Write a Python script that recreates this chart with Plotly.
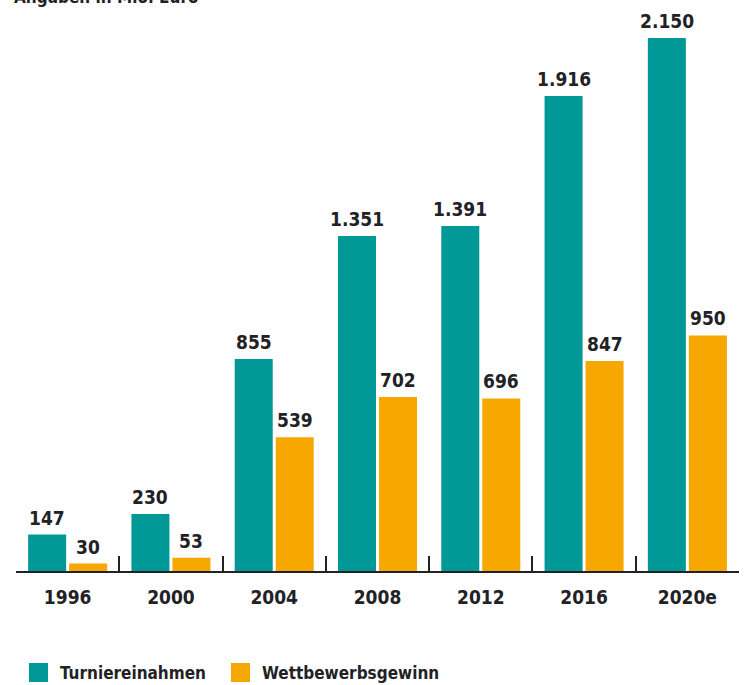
import plotly.graph_objects as go

years = ["1996", "2000", "2004", "2008", "2012", "2016", "2020e"]
turnier = [147, 230, 855, 1351, 1391, 1916, 2150]
wettbewerb = [30, 53, 539, 702, 696, 847, 950]
series_names = ["Turniereinahmen", "Wettbewerbsgewinn"]
title_text = "Angaben in Mio. Euro"

TEAL = "#009997"
ORANGE = "#F6A800"
INK = "#222226"
FONT = "DejaVu Sans Condensed"

W, H = 748, 685
ML, MR, MT, MB = 16, 9, 0, 114
plot_w = W - ML - MR
plot_h = H - MT - MB
YMAX = 2303


def fmt(v):
    return f"{v:,}".replace(",", ".")


fig = go.Figure()
fig.add_trace(go.Bar(x=years, y=turnier, name=series_names[0], marker_color=TEAL,
                     marker_line_width=0, showlegend=False))
fig.add_trace(go.Bar(x=years, y=wettbewerb, name=series_names[1], marker_color=ORANGE,
                     marker_line_width=0, showlegend=False))

annotations = []
for vals, shift in ((turnier, -20.5), (wettbewerb, 20.5)):
    for i, v in enumerate(vals):
        annotations.append(dict(x=i, y=v, xref="x", yref="y", text=fmt(v),
                                showarrow=False, xshift=shift, yanchor="bottom",
                                yshift=4, font=dict(family=FONT, size=19, color=INK, weight="bold")))

# title (partly cut at the top, as in reference)
annotations.append(dict(x=(12 - ML) / plot_w, y=1, xref="paper", yref="paper",
                        xanchor="left", yanchor="middle", yshift=3, text=title_text,
                        showarrow=False, font=dict(family=FONT, size=17, color=INK, weight="bold")))


def px_x(p):
    return (p - ML) / plot_w


def px_y(p):
    return (H - MB - p) / plot_h


shapes = []
legend_items = [(29, TEAL, series_names[0]), (231, ORANGE, series_names[1])]
for x0, col, name in legend_items:
    shapes.append(dict(type="rect", xref="paper", yref="paper",
                       x0=px_x(x0), x1=px_x(x0 + 19), y0=px_y(682), y1=px_y(663),
                       fillcolor=col, line_width=0))
    annotations.append(dict(x=px_x(x0 + 29), y=px_y(672.5), xref="paper", yref="paper",
                            xanchor="left", yanchor="middle", text=name,
                            showarrow=False, font=dict(family=FONT, size=17, color=INK, weight="bold")))

fig.update_layout(
    width=W, height=H,
    margin=dict(l=ML, r=MR, t=MT, b=MB),
    paper_bgcolor="white", plot_bgcolor="white",
    barmode="group", bargap=0.206, bargroupgap=0.073,
    xaxis=dict(type="category", range=[-0.5, 6.5], showline=True, linecolor=INK, linewidth=2,
               ticks="inside", tickson="boundaries", ticklen=15, tickwidth=2, tickcolor=INK,
               showgrid=False, zeroline=False, ticklabelstandoff=8,
               tickfont=dict(family=FONT, size=19, color=INK, weight="bold")),
    yaxis=dict(range=[0, YMAX], visible=False, showgrid=False, zeroline=False),
    annotations=annotations,
    shapes=shapes,
    font=dict(family=FONT),
)

fig.write_html("out.html")
